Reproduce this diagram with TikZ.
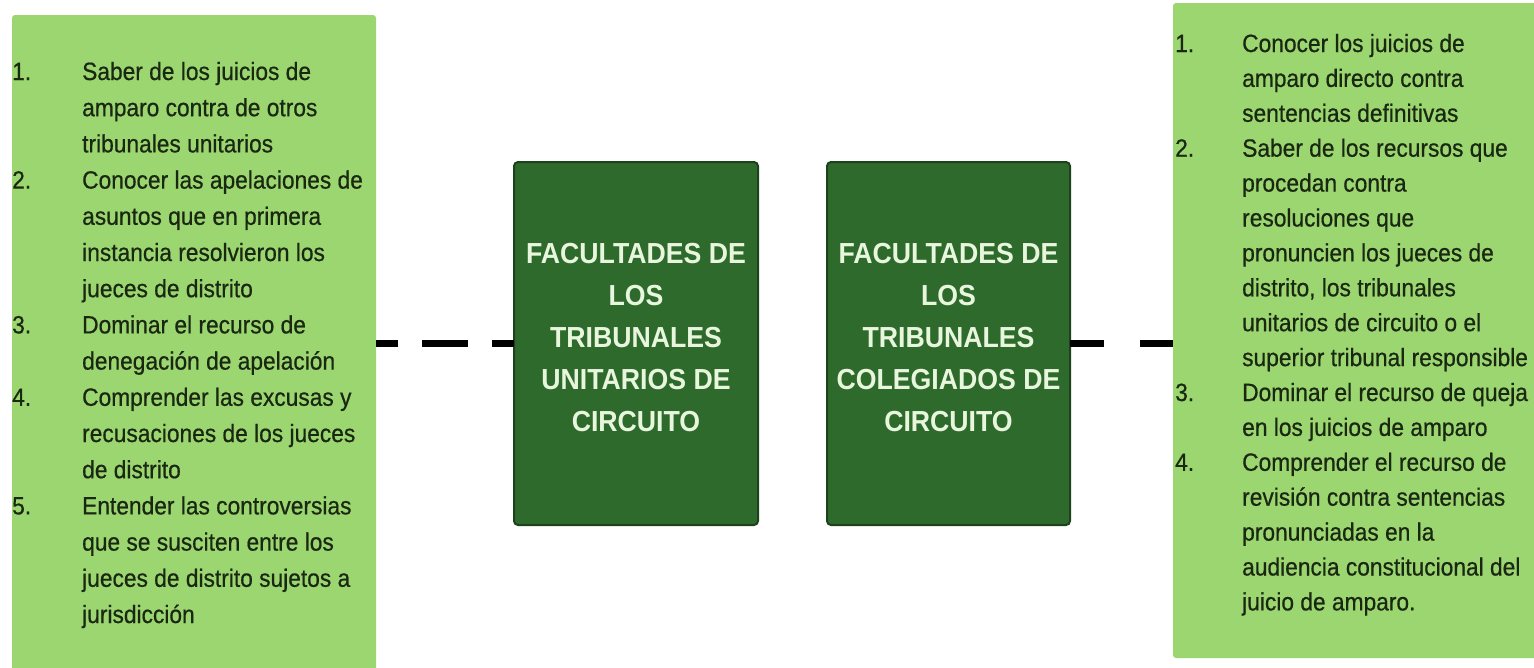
\documentclass[tikz,border=0pt]{standalone}
\usepackage{fontspec}
\setmainfont{Liberation Sans}[FakeStretch=0.95]
\newfontfamily\listfont{Liberation Sans}[FakeStretch=0.91, FakeBold=0.6]
\newfontfamily\labelfont{Liberation Sans}[FakeStretch=0.92]
\usepackage{array}
\definecolor{litegreen}{HTML}{9CD671}
\definecolor{darkgreen}{HTML}{2E6A2B}
\definecolor{darkedge}{HTML}{1E421B}
\definecolor{textdark}{HTML}{1A2812}
\definecolor{textlight}{HTML}{E8F6DE}
\begin{document}
\begin{tikzpicture}[x=1pt,y=-1pt,
  litebox/.style={fill=litegreen, draw=none, rounded corners=3pt, inner sep=0pt, outer sep=0pt},
  darkbox/.style={fill=darkgreen, draw=darkedge, line width=2pt, rounded corners=4pt, inner sep=0pt, outer sep=0pt},
  listtext/.style={inner sep=0pt, text=textdark},
  boxlabel/.style={inner sep=0pt, text=textlight, align=center, font=\labelfont\fontsize{29}{42}\selectfont\bfseries},
  dashA/.style={line width=7pt, draw=black, dash pattern=on 46pt off 24pt, dash phase=24pt},
  dashB/.style={line width=7pt, draw=black, dash pattern=on 34pt off 36pt}
]
\useasboundingbox (0,0) rectangle (1534,667);
\clip (0,0) rectangle (1534,667);
\fill[white] (0,0) rectangle (1534,667);

\node[litebox, anchor=north west, minimum width=364pt, minimum height=680pt] (L) at (12,15) {};
\node[litebox, anchor=north west, minimum width=380pt, minimum height=655pt] (R) at (1173,3) {};
\node[darkbox, anchor=north west, minimum width=244pt, minimum height=363pt] (B1) at (514,162) {};
\node[darkbox, anchor=north west, minimum width=243pt, minimum height=363pt] (B2) at (827,162) {};

\node[boxlabel] (T1) at ([yshift=6pt]B1.center) {FACULTADES DE\\LOS\\TRIBUNALES\\UNITARIOS DE\\CIRCUITO};
\node[boxlabel] (T2) at ([yshift=6pt]B2.center) {FACULTADES DE\\LOS\\TRIBUNALES\\COLEGIADOS DE\\CIRCUITO};

\node[listtext, anchor=base west, font=\listfont\fontsize{25}{36.2}\selectfont] (LT) at (12,80) {%
\begin{tabular}[t]{@{}p{70pt}@{}l@{}}
1. & Saber de los juicios de\\
   & amparo contra de otros\\
   & tribunales unitarios\\
2. & Conocer las apelaciones de\\
   & asuntos que en primera\\
   & instancia resolvieron los\\
   & jueces de distrito\\
3. & Dominar el recurso de\\
   & denegación de apelación\\
4. & Comprender las excusas y\\
   & recusaciones de los jueces\\
   & de distrito\\
5. & Entender las controversias\\
   & que se susciten entre los\\
   & jueces de distrito sujetos a\\
   & jurisdicción
\end{tabular}};

\node[listtext, anchor=base west, font=\listfont\fontsize{25}{34.9}\selectfont] (RT) at (1175,52) {%
\begin{tabular}[t]{@{}p{67pt}@{}l@{}}
1. & Conocer los juicios de\\
   & amparo directo contra\\
   & sentencias definitivas\\
2. & Saber de los recursos que\\
   & procedan contra\\
   & resoluciones que\\
   & pronuncien los jueces de\\
   & distrito, los tribunales\\
   & unitarios de circuito o el\\
   & superior tribunal responsible\\
3. & Dominar el recurso de queja\\
   & en los juicios de amparo\\
4. & Comprender el recurso de\\
   & revisión contra sentencias\\
   & pronunciadas en la\\
   & audiencia constitucional del\\
   & juicio de amparo.
\end{tabular}};

\coordinate (LC) at (L.east |- B1.west);
\coordinate (RC) at (R.west |- B2.east);
\draw[dashA] (LC) -- (B1.west);
\draw[dashB] (B2.east) -- (RC);
\end{tikzpicture}
\end{document}
